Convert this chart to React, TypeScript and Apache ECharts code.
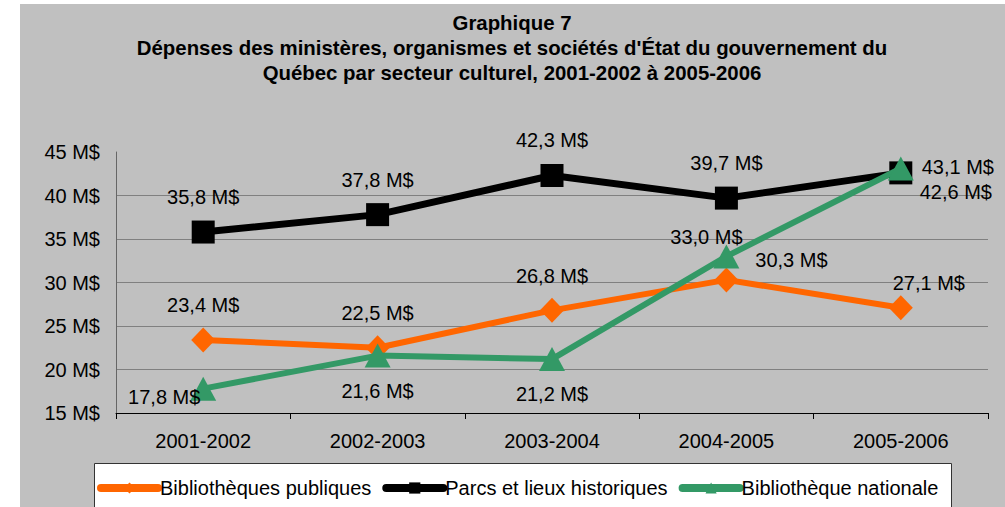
import React, { useEffect, useRef } from "react";
import * as echarts from "echarts";

const categories = ["2001-2002", "2002-2003", "2003-2004", "2004-2005", "2005-2006"];
const publiques = [23.4, 22.5, 26.8, 30.3, 27.1];
const parcs = [35.8, 37.8, 42.3, 39.7, 42.6];
const nationale = [17.8, 21.6, 21.2, 33.0, 43.1];
const seriesNames = ["Bibliothèques publiques", "Parcs et lieux historiques", "Bibliothèque nationale"];
const titleText =
  "Graphique 7\nDépenses des ministères, organismes et sociétés d'État du gouvernement du\nQuébec par secteur culturel, 2001-2002 à 2005-2006";

// label offsets (dx, dy) relative to each point
const offPubliques = [[0, -35], [0, -35], [0, -34], [65, -20], [28, -25]];
const offParcs = [[0, -35], [0, -35], [0, -35], [0, -35], [55, 19]];
const offNationale = [[-39, 8], [0, 35], [0, 35], [-20, -19], [57, -2]];

const FONT = "'Liberation Sans', Arial, sans-serif";
const fmt = (v: number) => v.toFixed(1).replace(".", ",") + " M$";

function mkData(vals: number[], offs: number[][]) {
  return vals.map((v, i) => ({
    value: v,
    label: { offset: offs[i] },
  }));
}

export default function App() {
  const ref = useRef<HTMLDivElement>(null);
  useEffect(() => {
    if (!ref.current) return;
    const chart = echarts.init(ref.current, null, { renderer: "svg" });
    const labelBase = {
      show: true,
      position: "inside",
      color: "#000",
      fontSize: 20,
      fontFamily: FONT,
      formatter: (p: any) => fmt(p.value),
    };
    chart.setOption({
      animation: false,
      backgroundColor: "#ffffff",
      textStyle: { fontFamily: FONT },
      graphic: [
        { type: "rect", shape: { x: 20, y: 4, width: 985, height: 503 }, style: { fill: "#c0c0c0" }, silent: true },
        {
          type: "rect",
          shape: { x: 94.5, y: 463.5, width: 857, height: 60 },
          style: { fill: "#ffffff", stroke: "#333333", lineWidth: 1 },
          silent: true,
        },
        {
          type: "text",
          x: 512,
          y: 48,
          style: {
            text: titleText,
            align: "center",
            verticalAlign: "middle",
            fontSize: 20.4,
            fontWeight: "bold",
            fontFamily: FONT,
            lineHeight: 25,
            fill: "#000",
          },
        },
      ],
      legend: {
        left: 97,
        top: 478,
        padding: 0,
        itemWidth: 57,
        itemHeight: 14,
        itemGap: 11,
        lineStyle: { width: 8, cap: "round" },
        textStyle: { fontSize: 20, fontFamily: FONT, color: "#000", padding: [0, 0, 0, -3] },
        data: seriesNames,
      },
      grid: { left: 116, right: 17, top: 152, bottom: 94, containLabel: false },
      xAxis: {
        type: "category",
        data: categories,
        boundaryGap: true,
        axisLine: { lineStyle: { color: "#000", width: 1 } },
        axisTick: { show: true, length: 6, alignWithLabel: false, lineStyle: { color: "#000" } },
        axisLabel: { fontSize: 20, color: "#000", fontFamily: FONT, margin: 18 },
      },
      yAxis: {
        type: "value",
        min: 15,
        max: 45,
        interval: 5,
        axisLine: { show: true, lineStyle: { color: "#666", width: 1 } },
        axisTick: { show: false },
        axisLabel: { fontSize: 20, color: "#000", fontFamily: FONT, margin: 16, formatter: (v: number) => v + " M$" },
        splitLine: { show: true, showMaxLine: false, lineStyle: { color: "#808080", width: 1 } },
      },
      series: [
        {
          name: seriesNames[0],
          type: "line",
          data: mkData(publiques, offPubliques),
          symbol: "diamond",
          symbolSize: [24, 25],
          lineStyle: { color: "#ff6600", width: 6 },
          itemStyle: { color: "#ff6600" },
          label: labelBase,
          z: 2,
        },
        {
          name: seriesNames[1],
          type: "line",
          data: mkData(parcs, offParcs),
          symbol: "rect",
          symbolSize: 23,
          lineStyle: { color: "#000000", width: 7 },
          itemStyle: { color: "#000000" },
          label: labelBase,
          z: 3,
        },
        {
          name: seriesNames[2],
          type: "line",
          data: mkData(nationale, offNationale),
          symbol: "triangle",
          symbolSize: [26, 24],
          lineStyle: { color: "#339966", width: 6 },
          itemStyle: { color: "#339966" },
          label: labelBase,
          z: 4,
        },
      ],
    });
    return () => chart.dispose();
  }, []);
  return (
    <div
      ref={ref}
      style={{ position: "absolute", left: 0, top: 0, width: 1005, height: 507 }}
    />
  );
}
